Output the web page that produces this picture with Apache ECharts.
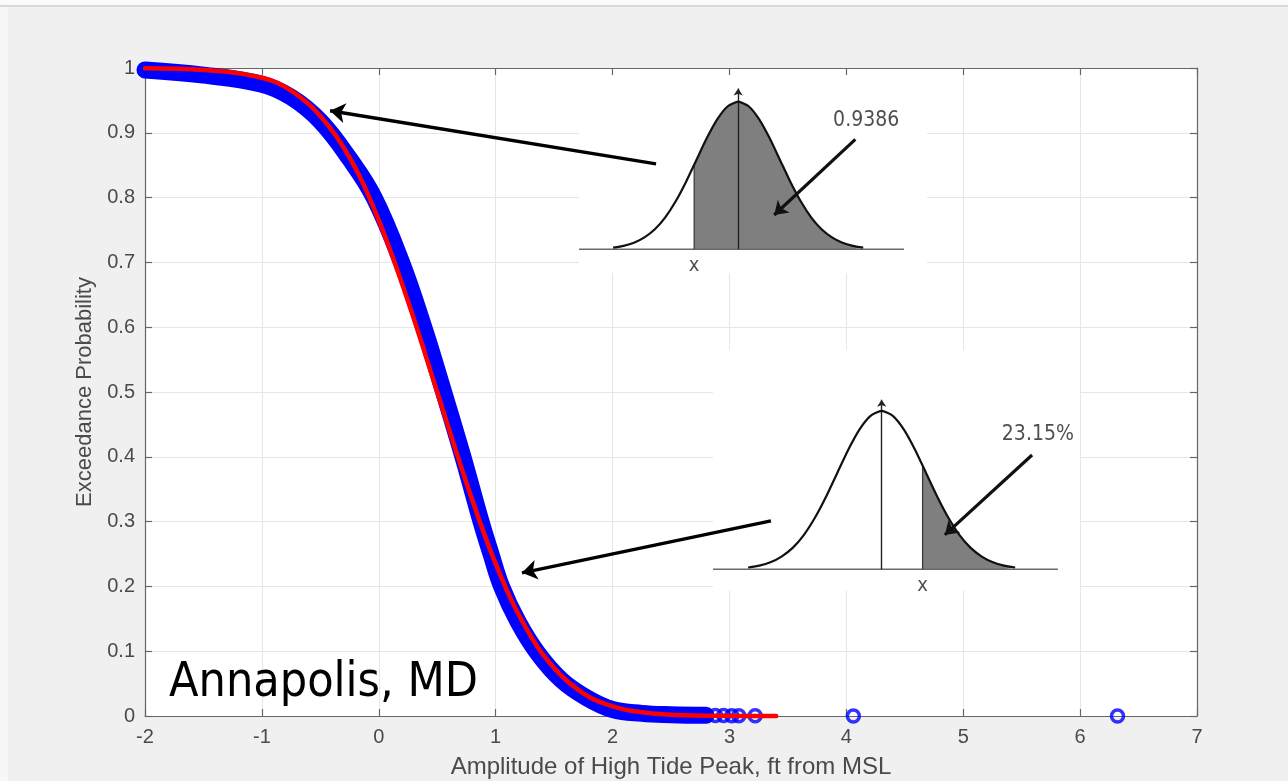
<!DOCTYPE html>
<html><head><meta charset="utf-8">
<script src="https://cdn.jsdelivr.net/npm/echarts@6/dist/echarts.min.js"></script>
<style>html,body{margin:0;padding:0;background:#f0f0f0}#c{width:1288px;height:781px}</style>
</head><body><div id="c"></div>
<script>
// ---- data ----
const xTicks = [-2, -1, 0, 1, 2, 3, 4, 5, 6, 7];
const yTicks = [0, 0.1, 0.2, 0.3, 0.4, 0.5, 0.6, 0.7, 0.8, 0.9, 1];
const xName = 'Amplitude of High Tide Peak, ft from MSL';
const yName = 'Exceedance Probability';
const siteName = 'Annapolis, MD';

// empirical exceedance (dense blue circles) - centre of the band
const blueX = [-2.0, -1.5, -1.0, -0.75, -0.5, -0.25, -0.04, 0.195, 0.385, 0.555, 0.72, 0.875, 0.96, 1.05, 1.19, 1.36, 1.56, 1.78, 2.0, 2.25, 2.5, 2.8];
const blueY = [0.997, 0.989, 0.975, 0.955, 0.918, 0.86, 0.80, 0.70, 0.60, 0.50, 0.40, 0.30, 0.25, 0.20, 0.146, 0.097, 0.056, 0.028, 0.010, 0.004, 0.002, 0.001];
// isolated circles at the tail
const tailX = [2.88, 2.95, 3.02, 3.08, 3.22, 4.06, 6.32];
const tailY = [0.0008, 0.0006, 0.0005, 0.0004, 0.0003, 0, 0];
// fitted curve (red)
const redX = [-2.0, -1.5, -1.0, -0.75, -0.5, -0.25, 0.0, 0.25, 0.5, 0.75, 1.0, 1.25, 1.5, 1.75, 2.0, 2.25, 2.5, 3.0, 3.4];
const redY = [0.9995, 0.997, 0.985, 0.965, 0.926, 0.862, 0.765, 0.64, 0.50, 0.36, 0.235, 0.139, 0.074, 0.035, 0.015, 0.0057, 0.002, 0.0003, 0.0001];

// inset bell curves (standardised units)
const bellZ = [-3, -2.75, -2.5, -2.25, -2, -1.75, -1.5, -1.25, -1, -0.75, -0.5, -0.25, 0, 0.25, 0.5, 0.75, 1, 1.25, 1.5, 1.75, 2, 2.25, 2.5, 2.75, 3];
const bellH = [0.011, 0.023, 0.044, 0.08, 0.135, 0.216, 0.325, 0.458, 0.607, 0.755, 0.882, 0.969, 1, 0.969, 0.882, 0.755, 0.607, 0.458, 0.325, 0.216, 0.135, 0.08, 0.044, 0.023, 0.011];
const inset1Cut = [-1.056, 0.575];
const inset2Cut = [0.92, 0.655];
const inset1Text = '0.9386';
const inset2Text = '23.15%';
const inset1TextAt = [3.07, 0.875];
const inset2TextAt = [3.51, 0.85];
const inset1Arrow = [[2.81, 0.745], [0.864, 0.232]];
const inset2Arrow = [[3.38, 0.722], [1.42, 0.217]];
const inset1Base = [-3.82, 3.98];
const inset2Base = [-3.79, 3.96];
const meanArrowTop = [1.09, 1.07];
// main arrows (from insets to curve)
const arrow1 = [[2.372, 0.852], [-0.417, 0.934]];
const arrow2 = [[3.355, 0.301], [1.225, 0.221]];

// ---- build ----
const pairs = (xs, ys) => xs.map((x, i) => [x, ys[i]]);
const bell = pairs(bellZ, bellH);
const shade = cut => [cut].concat(bell.filter(p => p[0] > cut[0]));

const AX = '#666666', LBL = '#4a4a4a';
const tickFont = '"Liberation Sans", Arial, sans-serif';
const handFont = '"DejaVu Sans Condensed", Lato, "DejaVu Sans", sans-serif';

function mainX(pos, labels) {
  return {
    type: 'value', gridIndex: 0, position: pos, min: xTicks[0], max: xTicks[xTicks.length - 1], interval: 1,
    axisLine: { show: true, onZero: false, lineStyle: { color: AX, width: 1.2 } },
    axisTick: { show: true, inside: true, length: 7, lineStyle: { color: AX, width: 1.2 } },
    axisLabel: { show: labels, color: LBL, fontSize: 20, fontFamily: tickFont, margin: 11 },
    splitLine: { show: labels, lineStyle: { color: '#e6e6e6', width: 1 } },
    name: labels ? xName : '', nameLocation: 'middle', nameGap: 39,
    nameTextStyle: { color: LBL, fontSize: 24, fontFamily: tickFont }
  };
}
function mainY(pos, labels) {
  return {
    type: 'value', gridIndex: 0, position: pos, min: yTicks[0], max: yTicks[yTicks.length - 1], interval: 0.1,
    axisLine: { show: true, onZero: false, lineStyle: { color: AX, width: 1.2 } },
    axisTick: { show: true, inside: true, length: 7, lineStyle: { color: AX, width: 1.2 } },
    axisLabel: { show: labels, color: LBL, fontSize: 20, fontFamily: tickFont, margin: 10 },
    splitLine: { show: labels, lineStyle: { color: '#e6e6e6', width: 1 } },
    name: labels ? yName : '', nameLocation: 'middle', nameGap: 46,
    nameTextStyle: { color: LBL, fontSize: 22, fontFamily: tickFont }
  };
}
function hidden(type, grid, min, max) {
  return { type: 'value', gridIndex: grid, min: min, max: max, show: false };
}

function insetSeries(ax, cut, base, txt, txtAt, arr, topY) {
  const common = { xAxisIndex: ax, yAxisIndex: ax, silent: true, animation: false };
  return [
    Object.assign({ type: 'line', data: shade(cut), showSymbol: false, smooth: 0.2,
      lineStyle: { width: 0 }, areaStyle: { color: '#7f7f7f', opacity: 1 }, z: 5 }, common),
    Object.assign({ type: 'line', data: [[base[0], 0], [base[1], 0]], showSymbol: false,
      lineStyle: { color: '#6a6a6a', width: 1.6 }, z: 6 }, common),
    Object.assign({ type: 'line', data: [[cut[0], 0], cut], showSymbol: false,
      lineStyle: { color: '#3a3a3a', width: 1.3 }, z: 6 }, common),
    Object.assign({ type: 'line', data: bell, showSymbol: false, smooth: 0.2,
      lineStyle: { color: '#111', width: 2.2 }, z: 7 }, common),
    Object.assign({ type: 'lines', coordinateSystem: 'cartesian2d', z: 7,
      symbol: ['none', 'arrow'], symbolSize: 7,
      lineStyle: { color: '#222', width: 1.4, opacity: 1 },
      data: [{ coords: [[0, 0], [0, topY]] }] }, common),
    Object.assign({ type: 'lines', coordinateSystem: 'cartesian2d', z: 8,
      symbol: ['none', 'arrow'], symbolSize: 13,
      lineStyle: { color: '#111', width: 3.2, opacity: 1 },
      data: [{ coords: arr }] }, common),
    Object.assign({ type: 'scatter', symbolSize: 1, itemStyle: { color: 'rgba(0,0,0,0)' }, z: 8,
      data: [
        { value: [cut[0], 0], label: { show: true, position: 'bottom', distance: 6, formatter: 'x', color: '#222', fontSize: 20, fontFamily: handFont } },
        { value: txtAt, label: { show: true, position: 'inside', formatter: txt, color: '#222', fontSize: 21, fontFamily: handFont } }
      ] }, common)
  ];
}

const option = {
  backgroundColor: '#f0f0f0',
  animation: false,
  graphic: [
    { type: 'rect', left: 0, top: 0, shape: { width: 1288, height: 5 }, style: { fill: '#fafafa' }, silent: true },
    { type: 'rect', left: 0, top: 5, shape: { width: 1288, height: 2 }, style: { fill: '#d9d9d9' }, silent: true },
    { type: 'rect', left: 0, top: 7, shape: { width: 8, height: 774 }, style: { fill: '#f7f7f7' }, silent: true },
    { type: 'text', left: 169, top: 660, z: 20, silent: true,
      style: { text: siteName, font: '48px ' + handFont, fill: '#000' } }
  ],
  grid: [
    { left: 145, right: 91, top: 68, bottom: 65, show: true, backgroundColor: '#ffffff', borderWidth: 0, containLabel: false, outerBoundsMode: 'none' },
    { left: 579, width: 348, top: 75, height: 198, show: true, backgroundColor: '#ffffff', borderWidth: 0, z: 3, containLabel: false, outerBoundsMode: 'none' },
    { left: 713, width: 367, top: 350, height: 240, show: true, backgroundColor: '#ffffff', borderWidth: 0, z: 3, containLabel: false, outerBoundsMode: 'none' }
  ],
  xAxis: [mainX('bottom', true), mainX('top', false),
    hidden('x', 1, -3.82, 4.53), hidden('x', 2, -3.79, 4.457)],
  yAxis: [mainY('left', true), mainY('right', false),
    hidden('y', 1, -0.161, 1.181), hidden('y', 2, -0.131, 1.385)],
  series: [
    { type: 'line', xAxisIndex: 0, yAxisIndex: 0, data: pairs(blueX, blueY), showSymbol: false, smooth: 0.4, clip: false,
      lineStyle: { color: '#0000ff', width: 17, cap: 'round', join: 'round' }, z: 2, silent: true },
    { type: 'scatter', xAxisIndex: 0, yAxisIndex: 0, data: pairs(tailX, tailY), symbol: 'circle', symbolSize: 12, clip: false,
      itemStyle: { color: 'rgba(0,0,0,0)', borderColor: '#0000ff', borderWidth: 3.5 }, z: 2, silent: true },
    { type: 'line', xAxisIndex: 0, yAxisIndex: 0, data: pairs(redX, redY), showSymbol: false, smooth: 0.4, clip: false,
      lineStyle: { color: '#ff0000', width: 4.5, cap: 'round' }, z: 3, silent: true },
    ...insetSeries(2, inset1Cut, inset1Base, inset1Text, inset1TextAt, inset1Arrow, meanArrowTop[0]),
    ...insetSeries(3, inset2Cut, inset2Base, inset2Text, inset2TextAt, inset2Arrow, meanArrowTop[1]),
    { type: 'lines', coordinateSystem: 'cartesian2d', xAxisIndex: 0, yAxisIndex: 0, z: 12, silent: true,
      symbol: ['none', 'arrow'], symbolSize: 15,
      lineStyle: { color: '#000', width: 3.4, opacity: 1 },
      data: [{ coords: arrow1 }, { coords: arrow2 }] }
  ]
};
const chart = echarts.init(document.getElementById('c'), null, { renderer: 'canvas' });
chart.setOption(option);
</script></body></html>
